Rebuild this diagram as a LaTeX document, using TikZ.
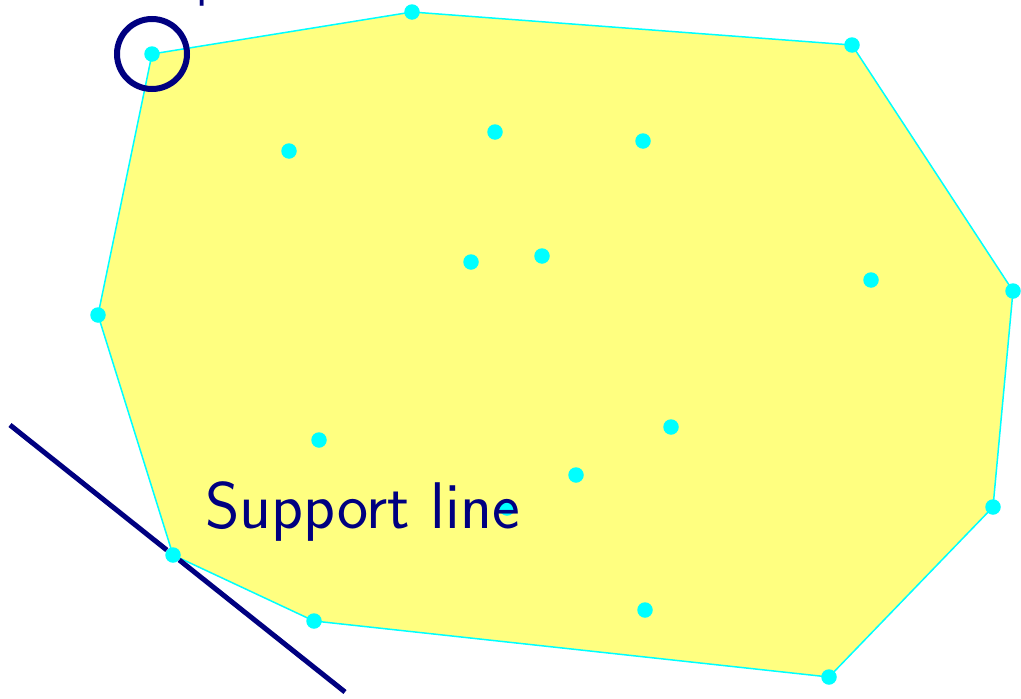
\documentclass[tikz,border=0pt]{standalone}
\begin{document}
\begin{tikzpicture}[x=1pt,y=-1pt,
  hull/.style={draw=cyan,fill=hullfill,line width=1.5pt,line join=round},
  pt/.style={circle,fill=cyan,inner sep=0pt,minimum size=15.5pt},
  navyline/.style={draw=navy,line width=5pt},
  lbl/.style={text=navy,font=\sffamily\fontsize{66}{70}\selectfont,inner sep=0pt},
  toplbl/.style={text=navy,font=\sffamily\fontsize{50}{54}\selectfont,inner sep=0pt}]
\definecolor{navy}{RGB}{0,0,128}
\definecolor{hullfill}{RGB}{255,255,128}
\definecolor{cyan}{RGB}{0,255,255}
\useasboundingbox (0,0) rectangle (1021,699);
% hull vertices
\coordinate (A) at (152,54);
\coordinate (B) at (412,12);
\coordinate (C) at (852,45);
\coordinate (D) at (1013,291);
\coordinate (E) at (993,507);
\coordinate (F) at (829,677);
\coordinate (G) at (314,621);
\coordinate (H) at (173,555);
\coordinate (I) at (98,315);
\path[hull] (A) -- (B) -- (C) -- (D) -- (E) -- (F) -- (G) -- (H) -- (I) -- cycle;
% points
\foreach \n in {A,B,C,D,E,F,G,H,I}
  \node[pt] (p\n) at (\n) {};
\foreach \n/\x/\y in {1/289/151,2/495/132,3/643/141,4/471/262,5/542/256,6/871/280,
                     7/319/440,8/671/427,9/576/475,10/645/610,11/507/508}
  \node[pt] (q\n) at (\x,\y) {};
% label, set over the points
\node[lbl,anchor=base west] (sl) at (205,528) {Support line};
% extreme point marker
\node[navyline,line width=6pt,circle,minimum size=70pt,inner sep=0pt] (ring) at (pA) {};
\node[toplbl,anchor=base west] (ep) at (19,-4) {Extreme point};
% support line through H
\coordinate (s0) at (10,425);
\coordinate (s1) at (345,692);
\draw[navyline] (s0) -- (pH) -- (s1);
\end{tikzpicture}
\end{document}
